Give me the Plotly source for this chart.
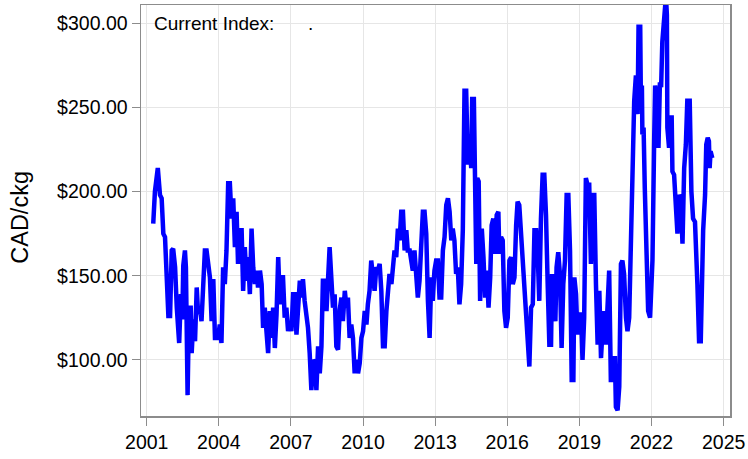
import datetime as dt
import plotly.graph_objects as go

# Decimal-year positions of the weekly index readings
years = [
    2001.27, 2001.34, 2001.46, 2001.55, 2001.62, 2001.69, 2001.76, 2001.83, 2001.90, 2001.97,
    2002.04, 2002.10, 2002.18, 2002.25, 2002.31, 2002.35, 2002.42, 2002.48, 2002.52, 2002.59,
    2002.63, 2002.70, 2002.76, 2002.83, 2002.87, 2002.94, 2003.01, 2003.08, 2003.14, 2003.21,
    2003.28, 2003.35, 2003.42, 2003.49, 2003.56, 2003.63, 2003.70, 2003.77, 2003.84, 2003.91,
    2003.97, 2004.04, 2004.11, 2004.18, 2004.25, 2004.32, 2004.39, 2004.46, 2004.53, 2004.60,
    2004.67, 2004.74, 2004.80, 2004.87, 2004.95, 2005.01,
    2005.08, 2005.15, 2005.22, 2005.29, 2005.36, 2005.43, 2005.50, 2005.57, 2005.63, 2005.71,
    2005.78, 2005.84, 2005.91, 2005.98, 2006.05, 2006.12, 2006.19, 2006.26, 2006.33, 2006.40,
    2006.47, 2006.54, 2006.61, 2006.67, 2006.74, 2006.81, 2006.88, 2006.95, 2007.02, 2007.09,
    2007.16, 2007.23, 2007.30, 2007.37, 2007.44, 2007.50, 2007.57, 2007.64, 2007.71, 2007.78,
    2007.85, 2007.92, 2007.99, 2008.06, 2008.13, 2008.20, 2008.27, 2008.33, 2008.40, 2008.48,
    2008.54, 2008.61, 2008.68, 2008.75, 2008.82, 2008.89, 2008.96, 2009.03,
    2009.10, 2009.16, 2009.24, 2009.31, 2009.37, 2009.44, 2009.51, 2009.58, 2009.65, 2009.72,
    2009.79, 2009.86, 2009.93, 2010.00, 2010.07, 2010.14, 2010.20, 2010.27, 2010.34, 2010.41,
    2010.48, 2010.55, 2010.62, 2010.69, 2010.76, 2010.83, 2010.90, 2010.97, 2011.03, 2011.10,
    2011.18, 2011.24, 2011.31, 2011.38, 2011.45, 2011.52, 2011.59, 2011.66, 2011.73, 2011.80,
    2011.86, 2011.94, 2012.01, 2012.07, 2012.14, 2012.21, 2012.28, 2012.35, 2012.42, 2012.49,
    2012.56, 2012.63, 2012.70, 2012.77,
    2012.84, 2012.90, 2012.97, 2013.04, 2013.11, 2013.18, 2013.25, 2013.32, 2013.39, 2013.46,
    2013.53, 2013.60, 2013.67, 2013.73, 2013.80, 2013.87, 2013.94, 2014.01, 2014.08, 2014.15,
    2014.22, 2014.29, 2014.36, 2014.43, 2014.50, 2014.54, 2014.61, 2014.65, 2014.71, 2014.75,
    2014.81, 2014.87, 2014.94, 2015.01, 2015.08, 2015.15, 2015.22, 2015.29, 2015.35, 2015.42,
    2015.49, 2015.56, 2015.63, 2015.67, 2015.74, 2015.81, 2015.88, 2015.95, 2016.02, 2016.09,
    2016.16, 2016.23, 2016.30, 2016.37, 2016.43, 2016.50, 2016.57, 2016.64, 2016.71, 2016.78,
    2016.85,
    2016.92, 2016.99, 2017.06, 2017.13, 2017.20, 2017.26, 2017.33, 2017.40, 2017.47, 2017.54,
    2017.61, 2017.68, 2017.75, 2017.82, 2017.86, 2017.93, 2018.00, 2018.05, 2018.12, 2018.19,
    2018.26, 2018.33, 2018.40, 2018.47, 2018.54, 2018.61, 2018.68, 2018.75, 2018.79, 2018.86,
    2018.92, 2019.00, 2019.07, 2019.13, 2019.20, 2019.27, 2019.34, 2019.41, 2019.48, 2019.55,
    2019.62, 2019.69, 2019.76, 2019.83, 2019.90, 2019.96, 2020.03, 2020.10, 2020.17, 2020.24,
    2020.31, 2020.38, 2020.42, 2020.48, 2020.52, 2020.59, 2020.66, 2020.73, 2020.79,
    2020.86, 2020.94, 2021.00, 2021.07, 2021.14, 2021.21, 2021.28, 2021.35, 2021.42, 2021.46,
    2021.53, 2021.56, 2021.60, 2021.62, 2021.67, 2021.72, 2021.79, 2021.86, 2021.94, 2021.99,
    2022.04, 2022.11, 2022.15, 2022.22, 2022.29, 2022.35, 2022.40, 2022.45, 2022.53, 2022.60,
    2022.64, 2022.66, 2022.73, 2022.77, 2022.84, 2022.87, 2022.94, 2023.01, 2023.08, 2023.15,
    2023.22, 2023.29, 2023.36, 2023.43, 2023.49, 2023.59, 2023.66, 2023.73, 2023.81, 2023.91,
    2023.98, 2024.05, 2024.09, 2024.15, 2024.23, 2024.28, 2024.34, 2024.39, 2024.42, 2024.46,
    2024.53,
]

# Index values, CAD per hundredweight (ckg)
prices = [
    181, 200, 214, 198, 196, 175, 173, 147, 126, 126,
    165, 166, 155, 131, 117, 110, 139, 124, 156, 165,
    155, 79, 131, 131, 104, 124, 111, 143, 127, 131,
    123, 141, 165, 165, 157, 149, 123, 148, 113, 113,
    113, 121, 110, 155, 145, 165, 205, 205, 184, 196,
    167, 188, 157, 177, 177, 141,
    167, 147, 161, 139, 178, 155, 145, 153, 143, 153,
    145, 119, 131, 117, 104, 129, 113, 131, 107, 127,
    161, 133, 149, 149, 125, 131, 117, 123, 117, 139,
    139, 115, 133, 147, 137, 148, 135, 129, 119, 104,
    82, 100, 98, 82, 108, 92, 108, 147, 147, 129,
    147, 167, 149, 131, 139, 108, 106, 130,
    137, 123, 141, 131, 137, 113, 121, 113, 92, 100,
    92, 98, 113, 117, 129, 121, 133, 141, 159, 147,
    141, 155, 153, 157, 141, 108, 108, 129, 141, 151,
    145, 159, 165, 161, 178, 171, 188, 188, 165, 177,
    165, 165, 159, 153, 165, 149, 137, 147, 175, 188,
    188, 175, 135, 113,
    149, 135, 153, 159, 159, 137, 137, 165, 173, 192,
    196, 188, 171, 178, 171, 151, 155, 133, 145, 177,
    260, 260, 216, 228, 214, 255, 255, 200, 157, 208,
    206, 135, 178, 161, 137, 153, 131, 149, 180, 184,
    163, 186, 188, 163, 173, 171, 129, 119, 125, 159,
    161, 145, 149, 180, 194, 192, 177, 153, 145, 123,
    111,
    96, 131, 133, 177, 177, 165, 135, 184, 210, 210,
    186, 145, 109, 109, 151, 129, 123, 155, 164, 151,
    107, 145, 159, 198, 198, 165, 88, 88, 149, 139,
    115, 127, 127, 100, 125, 208, 204, 204, 157, 198,
    198, 145, 109, 141, 101, 117, 129, 109, 131, 153,
    88, 88, 101, 101, 72, 70, 84, 157, 159,
    151, 125, 117, 125, 175, 228, 254, 269, 246, 298,
    298, 250, 263, 234, 238, 202, 155, 129, 125, 147,
    159, 230, 263, 256, 226, 265, 262, 289, 307, 316,
    305, 238, 226, 244, 244, 212, 210, 190, 175, 198,
    196, 169, 214, 228, 254, 254, 200, 184, 182, 145,
    111, 111, 149, 177, 198, 228, 232, 230, 214, 224,
    220,
]

y_ticks = [100, 150, 200, 250, 300]
y_tick_labels = ["$100.00", "$150.00", "$200.00", "$250.00", "$300.00"]
x_tick_years = [2001, 2004, 2007, 2010, 2013, 2016, 2019, 2022, 2025]


def to_date(y):
    base = int(y)
    return dt.datetime(base, 1, 1) + dt.timedelta(days=(y - base) * 365.25)


dates = [to_date(y) for y in years]

FONT = "Liberation Sans, Arial, sans-serif"

fig = go.Figure(
    go.Scatter(
        x=dates,
        y=prices,
        mode="lines",
        line=dict(color="#0000FF", width=4.5),
        hoverinfo="skip",
    )
)

fig.update_layout(
    width=748,
    height=459,
    margin=dict(l=141, r=17, t=3, b=43),
    paper_bgcolor="white",
    plot_bgcolor="white",
    showlegend=False,
    font=dict(family=FONT, size=19, color="black"),
    annotations=[
        dict(
            text="Current Index:",
            xref="paper", yref="paper",
            x=0.018, y=0.955,
            xanchor="left", yanchor="middle",
            showarrow=False,
            font=dict(family=FONT, size=19, color="black"),
        ),
        dict(
            text=".",
            xref="paper", yref="paper",
            x=0.288, y=0.955,
            xanchor="center", yanchor="middle",
            showarrow=False,
            font=dict(family=FONT, size=19, color="black"),
        ),
        dict(
            text="CAD/ckg",
            xref="paper", yref="paper",
            x=-0.205, y=0.483,
            xanchor="center", yanchor="middle",
            textangle=-90,
            showarrow=False,
            font=dict(family=FONT, size=23.5, color="black"),
        ),
    ],
)

fig.update_xaxes(
    type="date",
    range=[to_date(2000.763), to_date(2025.265)],
    tickvals=[dt.datetime(y, 1, 1) for y in x_tick_years],
    ticktext=[str(y) for y in x_tick_years],
    ticks="outside",
    ticklen=8,
    tickcolor="#8c8c8c",
    tickfont=dict(family=FONT, size=19.5, color="black"),
    showgrid=True,
    gridcolor="#e6e6e6",
    gridwidth=1,
    showline=True,
    linecolor="#8c8c8c",
    linewidth=1.5,
    mirror=True,
    zeroline=False,
)

fig.update_yaxes(
    range=[66.6, 310.9],
    tickvals=y_ticks,
    ticktext=y_tick_labels,
    ticks="outside",
    ticklen=8,
    tickcolor="#8c8c8c",
    tickfont=dict(family=FONT, size=19.5, color="black"),
    showgrid=True,
    gridcolor="#e6e6e6",
    gridwidth=1,
    showline=True,
    linecolor="#8c8c8c",
    linewidth=1.5,
    mirror=True,
    zeroline=False,
)

fig.write_html(
    "out.html",
    config={"displayModeBar": False, "staticPlot": True},
    post_script="document.body.style.margin='0';document.body.style.padding='0';",
)
